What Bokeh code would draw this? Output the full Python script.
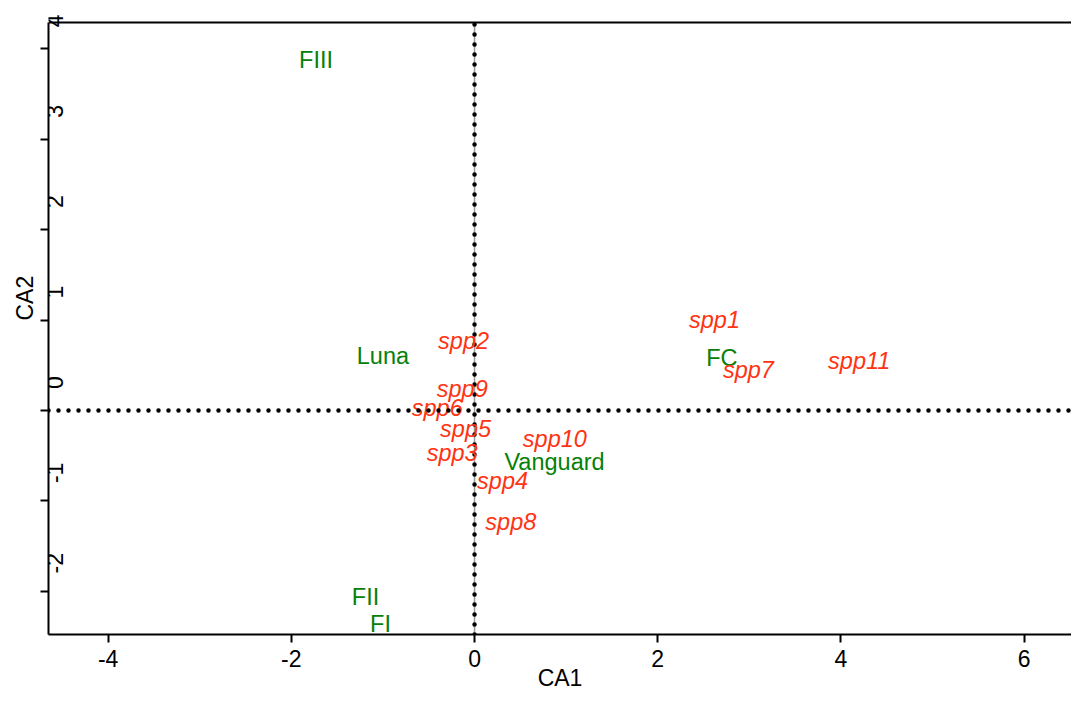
import math
from bokeh.plotting import figure
from bokeh.models import (ColumnDataSource, FixedTicker, LinearAxis, Span, Label, Title,
                          CustomJSTickFormatter, Range1d)
from bokeh.core.properties import value
from bokeh.embed import file_html
from bokeh.resources import INLINE

# ---- data ----
site_names = ["FIII", "Luna", "FC", "Vanguard", "FII", "FI"]
site_ca1 = [-1.73, -1.00, 2.70, 0.873, -1.19, -1.026]
site_ca2 = [3.868, 0.597, 0.575, -0.586, -2.07, -2.375]

spp_names = ["spp1", "spp2", "spp3", "spp4", "spp5", "spp6", "spp7", "spp8", "spp9", "spp10", "spp11"]
spp_ca1 = [2.62, -0.12, -0.244, 0.306, -0.098, -0.407, 2.99, 0.396, -0.134, 0.877, 4.20]
spp_ca2 = [0.985, 0.763, -0.476, -0.786, -0.221, 0.022, 0.442, -1.239, 0.232, -0.321, 0.542]

x_ticks = [-4, -2, 0, 2, 4, 6]
y_ticks = [-2, -1, 0, 1, 2, 3, 4]

# plot box (top of box drawn as a line; frame extends a little higher so the "4" label shows)
X0, X1 = -4.651, 6.517
Y0, Y_BOX_TOP, Y1 = -2.478, 4.292, 4.425

FONT = "Liberation Sans"
GREEN = "#078007"
RED = "#ff3312"

p = figure(width=1071, height=694, output_backend="svg", toolbar_location=None,
           x_range=Range1d(X0, X1), y_range=Range1d(Y0, Y1),
           min_border_left=48, min_border_right=0, min_border_top=10, min_border_bottom=60,
           x_axis_location=None, y_axis_location=None)
p.outline_line_color = None
p.grid.visible = False
p.background_fill_color = "white"
p.border_fill_color = "white"

# bottom axis
xa = LinearAxis(ticker=FixedTicker(ticks=x_ticks), axis_label="CA1",
                formatter=CustomJSTickFormatter(code="return tick.toFixed(0)"))
xa.axis_line_width = 2
xa.major_tick_line_width = 2
xa.major_tick_out = 8
xa.major_tick_in = 0
xa.minor_tick_line_color = None
xa.major_label_text_font = FONT
xa.major_label_text_font_size = "23px"
xa.major_label_text_color = "black"
xa.major_label_standoff = 7
xa.axis_label_text_font = FONT
xa.axis_label_text_font_size = "23px"
xa.axis_label_text_font_style = "normal"
xa.axis_label_text_color = "black"
xa.axis_label_standoff = -5
p.add_layout(xa, "below")

# left axis (tick marks; labels drawn rotated and shifted as in the reference)
ya = LinearAxis(ticker=FixedTicker(ticks=y_ticks), bounds=(Y0, Y_BOX_TOP),
                formatter=CustomJSTickFormatter(code="return ''"))
ya.axis_line_width = 2
ya.major_tick_line_width = 2
ya.major_tick_out = 8
ya.major_tick_in = 0
ya.minor_tick_line_color = None
ya.major_label_standoff = 0
ya.major_label_text_font_size = "1px"
p.add_layout(ya, "left")

p.add_layout(Title(text="CA2", align="left", offset=314, standoff=6,
                   text_font=FONT, text_font_size="23px", text_font_style="normal",
                   text_color="black"), "left")

for t in y_ticks:
    p.add_layout(Label(x=X0, y=t, x_offset=6, y_offset=28, text=str(t), angle=math.pi / 2,
                       text_align="center", text_baseline="middle",
                       text_font=FONT, text_font_size="23px", text_color="black"))

# top border of the box
p.add_layout(Span(location=Y_BOX_TOP, dimension="width", line_color="black", line_width=2))

# reference lines at 0
p.segment(x0=[0], y0=[Y0], x1=[0], y1=[Y_BOX_TOP], line_color="#999999", line_width=1.5)
p.segment(x0=[0], y0=[Y0], x1=[0], y1=[Y_BOX_TOP], line_color="black", line_width=4.5,
          line_dash="0 10", line_cap="round")
p.add_layout(Span(location=0, dimension="width", line_color="black", line_width=4.5,
                  line_dash="0 10", line_cap="round"))

sites = ColumnDataSource(dict(x=site_ca1, y=site_ca2, t=site_names))
spp = ColumnDataSource(dict(x=spp_ca1, y=spp_ca2, t=spp_names))

p.text(x="x", y="y", text="t", source=sites, text_align="center", text_baseline="middle",
       y_offset=-1, text_font=value(FONT), text_font_size="23.5px", text_color=GREEN)
p.text(x="x", y="y", text="t", source=spp, text_align="center", text_baseline="middle",
       y_offset=-1, text_font=value(FONT), text_font_size="23.5px", text_font_style="italic",
       text_color=RED)

open("out.html", "w").write(file_html(p, INLINE))
